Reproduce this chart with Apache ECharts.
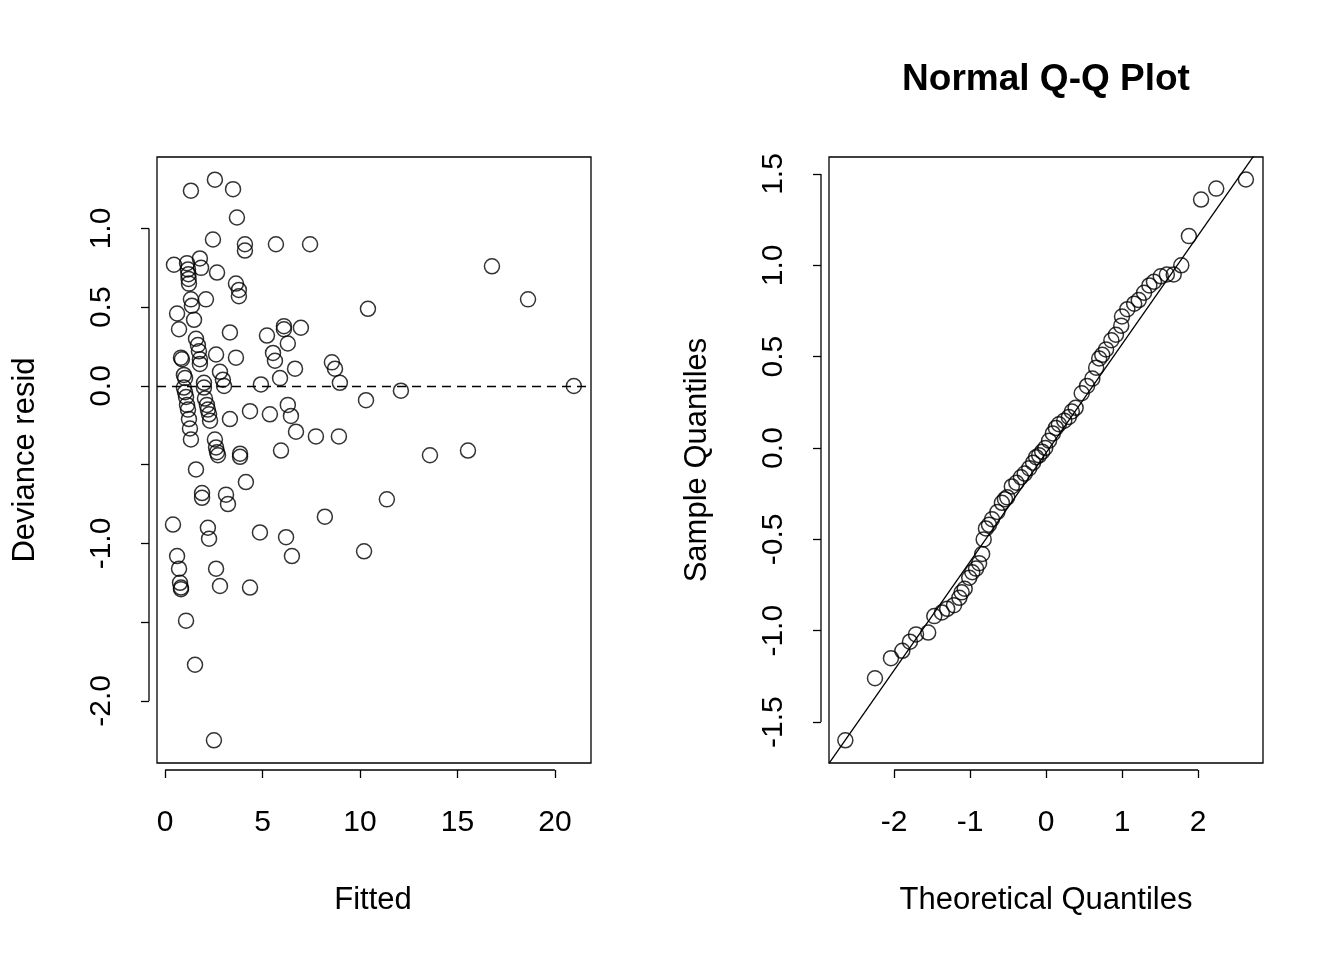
<!DOCTYPE html>
<html>
<head>
<meta charset="utf-8">
<script src="https://cdn.jsdelivr.net/npm/echarts@6/dist/echarts.min.js"></script>
<style>html,body{margin:0;padding:0;background:#fff}#main{width:1344px;height:960px}</style>
</head>
<body>
<div id="main"></div>
<script>
// 左图：拟合值 vs 偏差残差
const fittedVals = [2.56,1.33,3.49,3.69,2.46,4.1,4.1,5.69,7.44,0.46,1.13,1.79,1.85,1.18,1.2,1.21,1.23,2.67,3.64,3.79,3.79,1.33,1.38,2.1,0.62,1.49,0.72,3.33,1.59,1.69,1.74,1.79,1.79,0.82,0.87,2.62,3.64,5.23,6.1,6.1,6.97,6.3,5.54,5.64,6.67,5.9,0.97,1.03,2.82,2.97,3.03,2.0,2.0,4.92,0.97,1.03,1.08,1.13,1.18,1.23,1.28,1.33,2.05,2.15,2.2,2.26,2.31,3.33,4.36,5.38,6.3,6.46,6.72,2.56,2.62,2.67,3.85,5.95,7.74,8.92,8.56,8.72,8.97,10.41,10.31,12.1,16.77,18.62,20.97,13.59,15.54,11.38,8.2,10.21,2.72,3.85,1.59,4.15,1.9,1.9,3.13,3.23,0.41,2.2,2.26,4.87,6.21,6.51,0.62,0.72,2.62,0.77,0.82,0.82,2.82,4.36,1.08,1.54,2.51];
const devResid = [1.31,1.24,1.25,1.07,0.93,0.9,0.86,0.9,0.9,0.77,0.78,0.81,0.75,0.74,0.71,0.68,0.65,0.72,0.65,0.61,0.57,0.55,0.51,0.55,0.46,0.42,0.36,0.34,0.3,0.26,0.22,0.17,0.14,0.18,0.17,0.2,0.18,0.32,0.38,0.36,0.37,0.27,0.21,0.16,0.11,0.05,0.07,0.05,0.09,0.04,0.0,0.02,-0.01,0.01,-0.01,-0.04,-0.07,-0.12,-0.15,-0.21,-0.27,-0.34,-0.08,-0.12,-0.15,-0.18,-0.22,-0.21,-0.16,-0.18,-0.12,-0.19,-0.29,-0.34,-0.39,-0.42,-0.43,-0.41,-0.32,-0.32,0.15,0.11,0.02,0.49,-0.09,-0.03,0.76,0.55,0.0,-0.44,-0.41,-0.72,-0.83,-1.05,-0.44,-0.45,-0.53,-0.61,-0.68,-0.71,-0.69,-0.75,-0.88,-0.9,-0.97,-0.93,-0.96,-1.08,-1.08,-1.16,-1.16,-1.25,-1.28,-1.29,-1.27,-1.28,-1.49,-1.77,-2.25];

// 右图：正态 Q-Q 图（从图上读取的点）
const qqPixX = [845,875,891,902,910,916,928,934,942,947,954,959,962,965,969,972,976,979,982,984,986,989,992,997,1002,1005,1007,1012,1016,1021,1025,1029,1033,1036,1039,1042,1045,1049,1053,1056,1059,1064,1069,1072,1076,1082,1087,1092,1096,1099,1102,1106,1111,1116,1121,1122,1127,1134,1139,1144,1149,1154,1161,1167,1174,1181,1189,1201,1216,1246];
const qqPixY = [741,678,658,651,642,634,632,616,613,609,606,597,593,589,578,573,568,563,554,539,528,524,520,512,503,500,497,487,483,478,473,468,462,458,455,452,448,440,434,428,424,420,417,412,407,394,385,379,367,359,355,349,340,335,325,317,309,304,300,292,285,282,277,275,275,265,236,199,188,179];
const qqTheo = qqPixX.map(p => +((p - 1046) / 76).toFixed(2));
const qqSample = qqPixY.map(p => +((448 - p) / 182.7).toFixed(2));
// qqline 参数
const qqIntercept = -0.027;
const qqSlope = 0.595;

const leftXTicks = [0, 5, 10, 15, 20];
const leftYTicks = [-2.0, -1.5, -1.0, -0.5, 0.0, 0.5, 1.0];
const leftYLabels = [-2.0, -1.0, 0.0, 0.5, 1.0];
const rightXTicks = [-2, -1, 0, 1, 2];
const rightYTicks = [-1.5, -1.0, -0.5, 0.0, 0.5, 1.0, 1.5];

const FONT = 'Liberation Sans, Arial, sans-serif';
const chart = echarts.init(document.getElementById('main'));

function xAx(grid, min, max, ticks) {
    return {
        type: 'value', gridIndex: grid, min: min, max: max, position: 'bottom', offset: 7,
        splitLine: { show: false }, axisLine: { show: false, onZero: false },
        axisTick: { show: true, inside: false, length: 8, customValues: ticks, lineStyle: { color: '#000', width: 1.3 } },
        axisLabel: { customValues: ticks, color: '#000', fontSize: 30, fontFamily: FONT, margin: 38 }
    };
}
function yAx(grid, min, max, ticks, labels) {
    return {
        type: 'value', gridIndex: grid, min: min, max: max, position: 'left', offset: 8,
        splitLine: { show: false }, axisLine: { show: false, onZero: false },
        axisTick: { show: true, length: 8, customValues: ticks, lineStyle: { color: '#000', width: 1.3 } },
        axisLabel: { customValues: labels, color: '#000', fontSize: 30, fontFamily: FONT, margin: 32, rotate: 90,
            formatter: v => v.toFixed(1) }
    };
}

const circle = { color: 'rgba(0,0,0,0)', borderColor: '#000', borderWidth: 1.5 };

chart.setOption({
    backgroundColor: '#fff',
    animation: false,
    grid: [
        { left: 157, top: 157, width: 434, height: 606, show: true, borderColor: '#000', borderWidth: 1.3, backgroundColor: 'transparent' },
        { left: 829, top: 157, width: 434, height: 606, show: true, borderColor: '#000', borderWidth: 1.3, backgroundColor: 'transparent' }
    ],
    xAxis: [xAx(0, -0.41, 21.85, leftXTicks), xAx(1, -2.855, 2.855, rightXTicks)],
    yAxis: [yAx(0, -2.394, 1.454, leftYTicks, leftYLabels), yAx(1, -1.724, 1.593, rightYTicks, rightYTicks)],
    series: [
        {
            type: 'scatter', xAxisIndex: 0, yAxisIndex: 0, symbol: 'circle', symbolSize: 15,
            itemStyle: circle, data: fittedVals.map((v, i) => [v, devResid[i]]),
            markLine: { silent: true, symbol: 'none', label: { show: false },
                lineStyle: { color: '#000', type: [9, 6], width: 1.3 }, data: [{ yAxis: 0 }] }
        },
        {
            type: 'scatter', xAxisIndex: 1, yAxisIndex: 1, symbol: 'circle', symbolSize: 15,
            itemStyle: circle, data: qqTheo.map((v, i) => [v, qqSample[i]])
        },
        {
            type: 'line', xAxisIndex: 1, yAxisIndex: 1, symbol: 'none', clip: true,
            lineStyle: { color: '#000', width: 1.3 },
            data: [[-2.855, qqIntercept - qqSlope * 2.855], [2.855, qqIntercept + qqSlope * 2.855]]
        }
    ]
});

// R 风格的坐标轴线（只从第一个刻度到最后一个刻度）
const p = (g, x, y) => chart.convertToPixel({ gridIndex: g }, [x, y]);
const segs = [];
function hLine(g, a, b, y) { segs.push({ x1: p(g, a, 0)[0], y1: y, x2: p(g, b, 0)[0], y2: y }); }
function vLine(g, a, b, x) { segs.push({ x1: x, y1: p(g, 0, a)[1], x2: x, y2: p(g, 0, b)[1] }); }
hLine(0, 0, 20, 770);
vLine(0, -2.0, 1.0, 149);
hLine(1, -2, 2, 770);
vLine(1, -1.5, 1.5, 821);

const txt = (x, y, s, opt) => Object.assign({ type: 'text', x: x, y: y,
    style: { text: s, fill: '#000', font: '31px ' + FONT, textAlign: 'center', textVerticalAlign: 'middle' } }, opt || {});

chart.setOption({
    graphic: segs.map(s => ({ type: 'line', shape: s, style: { stroke: '#000', lineWidth: 1.3 } })).concat([
        txt(373, 900, 'Fitted'),
        txt(1046, 900, 'Theoretical Quantiles'),
        txt(25, 460, 'Deviance resid', { rotation: Math.PI / 2 }),
        txt(697, 460, 'Sample Quantiles', { rotation: Math.PI / 2 }),
        { type: 'text', x: 1046, y: 80, style: { text: 'Normal Q-Q Plot', fill: '#000',
            font: 'bold 37px ' + FONT, textAlign: 'center', textVerticalAlign: 'middle' } }
    ])
});
</script>
</body>
</html>
